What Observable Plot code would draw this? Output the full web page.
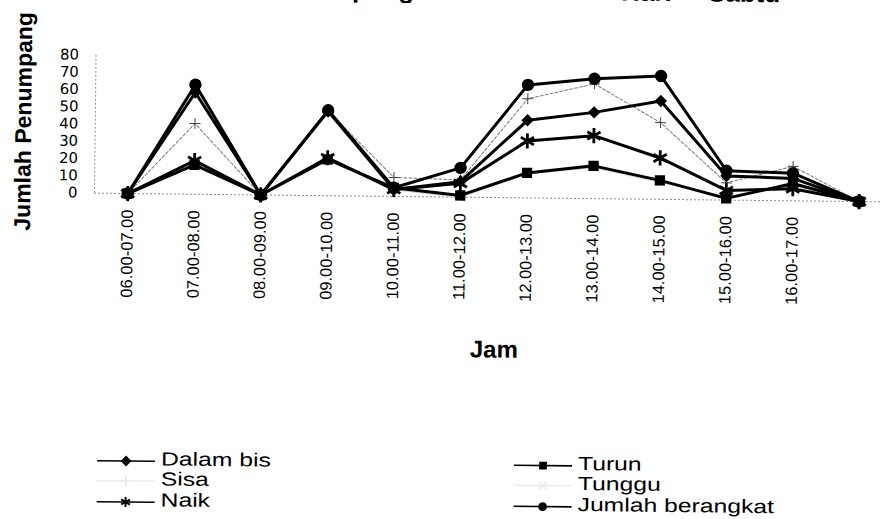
<!DOCTYPE html>
<html><head><meta charset="utf-8">
<script src="https://cdn.jsdelivr.net/npm/d3@7"></script>
<script src="https://cdn.jsdelivr.net/npm/@observablehq/plot@0.6"></script>
<style>
html,body{margin:0;padding:0;background:#fff;overflow:hidden;width:880px;height:519px;}
#wrap{position:relative;width:892px;height:519px;transform:rotate(0.63deg);transform-origin:127px 193px;font-family:"Liberation Sans",Arial,sans-serif;color:#000;}
#title{position:absolute;top:-26.8px;left:0;width:778px;text-align:right;font-weight:bold;font-size:26px;line-height:26px;word-spacing:29px;white-space:nowrap;}
#chart{position:absolute;left:0;top:0;}
.legcol{position:absolute;top:448.5px;}
.row{position:relative;height:20.5px;white-space:nowrap;}
.row svg{position:absolute;left:0;top:2px;overflow:visible;}
.row span{position:absolute;top:0;left:64px;font-size:19px;line-height:20.5px;transform:scaleX(1.3);transform-origin:0 50%;}
g[aria-label="y-axis tick label"] text{font-family:"DejaVu Sans",sans-serif;}
</style></head>
<body>
<div id="wrap">
  <div id="title">Grafik Fluktuasi Penumpang Bis Kota Hari Sabtu</div>
  <div id="chart"></div>
  <div class="legcol" id="legL" style="left:100px"></div>
  <div class="legcol" id="legR" style="left:517px"></div>
</div>
<script>
// ---- data ----
const hours = ["06.00-07.00","07.00-08.00","08.00-09.00","09.00-10.00","10.00-11.00","11.00-12.00","12.00-13.00","13.00-14.00","14.00-15.00","15.00-16.00","16.00-17.00","17.00-18.00"];
const tickLabels = ["06.00-07.00","07.00-08.00","08.00-09.00","09.00-10.00","10.00-11.00","11.00-12.00","12.00-13.00","13.00-14.00","14.00-15.00","15.00-16.00","16.00-17.00",""];
const yTicks = [0,10,20,30,40,50,60,70,80];
const seriesNames = ["Dalam bis","Turun","Sisa","Tunggu","Naik","Jumlah berangkat"];
const dalamBis        = [0, 59,   0, 49,   4,  9, 45,   50,   57,   14, 13, 0];
const turun           = [0, 17,   0, 21,   5,  1, 14.5, 19,   11,    1, 10, 0];
const sisa            = [0, 41,   0, 49,  11, 10, 57.5, 66.5, 44.5, 10, 20, 0];
const tunggu          = [0, 17,   0, 21,   4,  0, 14,   18,   10,    2,  9, 0];
const naik            = [0, 19.5, 0, 22,   4,  8, 33,   36.5, 24,  5.6,  7, 0];
const jumlahBerangkat = [0, 63.5, 0, 49.5, 5, 17, 65.5, 69.5, 71.5, 17, 16, 0];

const valuesBySeries = {"Dalam bis": dalamBis, "Turun": turun, "Sisa": sisa, "Tunggu": tunggu, "Naik": naik, "Jumlah berangkat": jumlahBerangkat};
const table = seriesNames.flatMap(s => hours.map((h, i) => ({series: s, hour: h, value: valuesBySeries[s][i]})));
const of = s => table.filter(d => d.series === s);

// ---- styles ----
const style = {
  "Tunggu": {line: {stroke: "#d4d4d4", strokeWidth: 1.5}, dot: {symbol: "times", r: 3.5, stroke: "#c8c8c8", strokeWidth: 1.2, fill: "none"}},
  "Sisa": {line: {stroke: "#7a7a7a", strokeWidth: 1, strokeDasharray: "3,2"}, dot: {symbol: "plus", r: 3.6, stroke: "#444", strokeWidth: 1, fill: "none"}},
  "Turun": {line: {stroke: "#000", strokeWidth: 3}, dot: {symbol: "square", r: 5.8, fill: "#000", stroke: "none"}},
  "Naik": {line: {stroke: "#000", strokeWidth: 3}, dot: {symbol: "asterisk", r: 7.2, stroke: "#000", strokeWidth: 2.8, fill: "none"}},
  "Dalam bis": {line: {stroke: "#000", strokeWidth: 3}, dot: {symbol: "diamond2", r: 5.6, fill: "#000", stroke: "none"}},
  "Jumlah berangkat": {line: {stroke: "#000", strokeWidth: 3}, dot: {symbol: "circle", r: 6.2, fill: "#000", stroke: "none"}}
};
const drawOrder = ["Tunggu", "Sisa", "Turun", "Naik", "Dalam bis", "Jumlah berangkat"];

const axisLine = {stroke: "#8c8c8c", strokeDasharray: "2,2", strokeWidth: 1};
const marks = [
  Plot.ruleY([0], {...axisLine}),
  Plot.ruleX([hours[0]], {y1: 0, y2: 80, dx: -33.25, ...axisLine}),
  ...drawOrder.flatMap(s => [
    Plot.line(of(s), {x: "hour", y: "value", ...style[s].line}),
    Plot.dot(of(s), {x: "hour", y: "value", ...style[s].dot})
  ]),
  Plot.axisY({ticks: yTicks, tickSize: 0, tickPadding: 17, fontSize: 14.8, label: null}),
  Plot.axisX({tickSize: 0, tickPadding: 16, tickRotate: -90, fontSize: 16.5, label: null,
    tickFormat: d => tickLabels[hours.indexOf(d)]}),
  Plot.text(["Jumlah Penumpang"], {text: d => d, frameAnchor: "left", rotate: -90, dx: -71.5, dy: -2,
    fontSize: 23, fontWeight: "bold", textAnchor: "middle", lineAnchor: "middle"}),
  Plot.text(["Jam"], {text: d => d, frameAnchor: "bottom", lineAnchor: "bottom", dx: 2, dy: 160,
    fontSize: 24, fontWeight: "bold"})
];

const chart = Plot.plot({
  width: 892, height: 400,
  marginTop: 55, marginBottom: 207, marginLeft: 94, marginRight: 0,
  style: {fontFamily: "'Liberation Sans', Arial, sans-serif", color: "#000", background: "#fff", overflow: "visible"},
  x: {type: "point", domain: hours, padding: 0.5, round: false},
  y: {domain: [0, 80]},
  marks
});
document.getElementById("chart").appendChild(chart);

// ---- legend ----
const legendLeft = ["Dalam bis", "Sisa", "Naik"];
const legendRight = ["Turun", "Tunggu", "Jumlah berangkat"];
function swatch(s) {
  const st = style[s];
  const light = s === "Sisa" || s === "Tunggu";
  const symName = {square: d3.symbolSquare, asterisk: d3.symbolAsterisk, diamond2: d3.symbolDiamond2, circle: d3.symbolCircle, plus: d3.symbolPlus, times: d3.symbolTimes}[st.dot.symbol];
  const sizes = {square: 60, asterisk: 70, diamond2: 75, circle: 60, plus: 40, times: 40};
  const p = d3.symbol(symName, sizes[st.dot.symbol])();
  const stroke = light ? "#ececec" : "#000";
  const filled = st.dot.fill && st.dot.fill !== "none";
  return `<svg width="58" height="20"><line x1="0" x2="58" y1="10" y2="10" stroke="${stroke}" stroke-width="1.6"/>` +
    `<path transform="translate(29,10)" d="${p}" fill="${filled && !light ? "#000" : "none"}" stroke="${filled ? "none" : stroke}" stroke-width="${filled ? 0 : 2}"/></svg>`;
}
function fillLegend(id, list) {
  document.getElementById(id).innerHTML = list.map(s => `<div class="row">${swatch(s)}<span>${s}</span></div>`).join("");
}
fillLegend("legL", legendLeft);
fillLegend("legR", legendRight);
</script>
</body></html>
